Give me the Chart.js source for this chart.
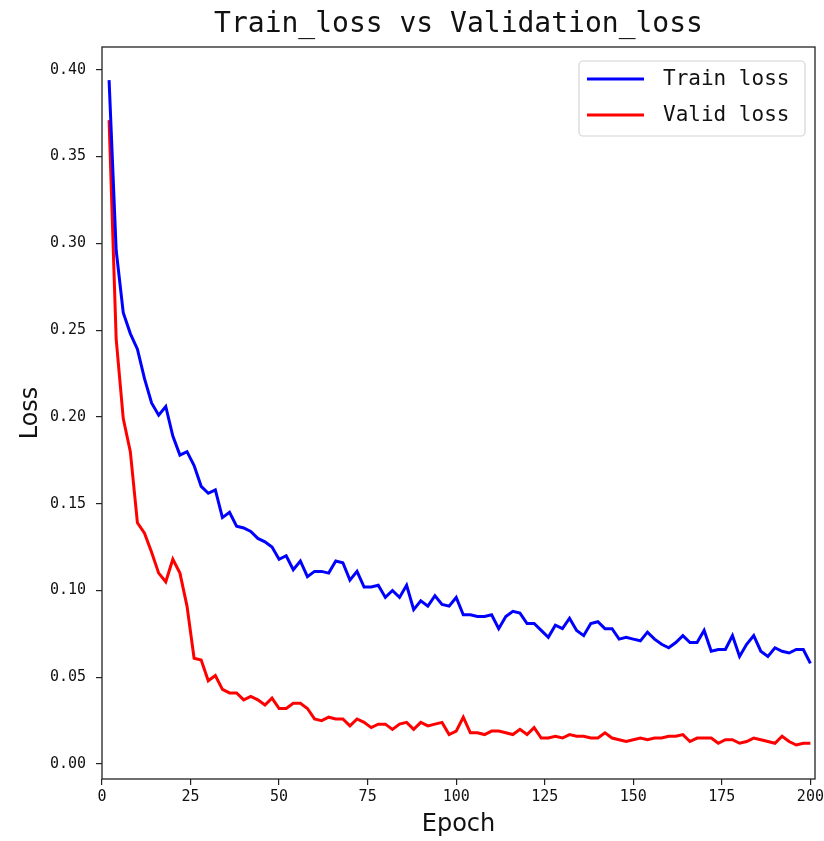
<!DOCTYPE html>
<html><head><meta charset="utf-8">
<script src="https://cdn.jsdelivr.net/npm/chart.js@4.4.1/dist/chart.umd.min.js"></script>
<style>html,body{margin:0;padding:0;background:#fff}#wrap{width:824px;height:841px}</style>
</head><body><div id="wrap"><canvas id="c" width="824" height="841"></canvas></div>
<script>
const epochs = [2,4,6,8,10,12,14,16,18,20,22,24,26,28,30,32,34,36,38,40,42,44,46,48,50,52,54,56,58,60,62,64,66,68,70,72,74,76,78,80,82,84,86,88,90,92,94,96,98,100,102,104,106,108,110,112,114,116,118,120,122,124,126,128,130,132,134,136,138,140,142,144,146,148,150,152,154,156,158,160,162,164,166,168,170,172,174,176,178,180,182,184,186,188,190,192,194,196,198,200];
const trainLoss = [0.394,0.296,0.260,0.248,0.239,0.222,0.208,0.201,0.206,0.189,0.178,0.180,0.172,0.160,0.156,0.158,0.142,0.145,0.137,0.136,0.134,0.130,0.128,0.125,0.118,0.120,0.112,0.117,0.108,0.111,0.111,0.110,0.117,0.116,0.106,0.111,0.102,0.102,0.103,0.096,0.100,0.096,0.103,0.089,0.094,0.091,0.097,0.092,0.091,0.096,0.086,0.086,0.085,0.085,0.086,0.078,0.085,0.088,0.087,0.081,0.081,0.077,0.073,0.080,0.078,0.084,0.077,0.074,0.081,0.082,0.078,0.078,0.072,0.073,0.072,0.071,0.076,0.072,0.069,0.067,0.070,0.074,0.070,0.070,0.077,0.065,0.066,0.066,0.074,0.062,0.069,0.074,0.065,0.062,0.067,0.065,0.064,0.066,0.066,0.058];
const validLoss = [0.371,0.245,0.199,0.180,0.139,0.133,0.122,0.110,0.105,0.118,0.110,0.091,0.061,0.060,0.048,0.051,0.043,0.041,0.041,0.037,0.039,0.037,0.034,0.038,0.032,0.032,0.035,0.035,0.032,0.026,0.025,0.027,0.026,0.026,0.022,0.026,0.024,0.021,0.023,0.023,0.020,0.023,0.024,0.020,0.024,0.022,0.023,0.024,0.017,0.019,0.027,0.018,0.018,0.017,0.019,0.019,0.018,0.017,0.020,0.017,0.021,0.015,0.015,0.016,0.015,0.017,0.016,0.016,0.015,0.015,0.018,0.015,0.014,0.013,0.014,0.015,0.014,0.015,0.015,0.016,0.016,0.017,0.013,0.015,0.015,0.015,0.012,0.014,0.014,0.012,0.013,0.015,0.014,0.013,0.012,0.016,0.013,0.011,0.012,0.012];
const xTickValues = [0,25,50,75,100,125,150,175,200];
const yTickValues = [0.00,0.05,0.10,0.15,0.20,0.25,0.30,0.35,0.40];
const seriesLabels = ['Train loss','Valid loss'];
const titleText = 'Train_loss vs Validation_loss';
const xTitle = 'Epoch';
const yTitle = 'Loss';

const MONO = '"DejaVu Sans Mono", "Liberation Mono", monospace';
const SANS = '"DejaVu Sans", "Liberation Sans", sans-serif';
const AXIS = '#222';

const framePlugin = {
  id: 'frame',
  afterDatasetsDraw(chart) {
    const {ctx, chartArea: a} = chart;
    ctx.save();
    ctx.strokeStyle = AXIS;
    ctx.lineWidth = 1.3;
    ctx.strokeRect(a.left, a.top, a.right - a.left, a.bottom - a.top);
    ctx.restore();
  }
};

const legendPlugin = {
  id: 'legendBox',
  afterDraw(chart) {
    const {ctx, chartArea: a} = chart;
    const w = 226, h = 75;
    const x0 = a.right - 10 - w, y0 = a.top + 14;
    ctx.save();
    ctx.beginPath();
    ctx.roundRect(x0, y0, w, h, 4);
    ctx.fillStyle = 'rgba(255,255,255,0.85)';
    ctx.fill();
    ctx.strokeStyle = '#d4d4d4';
    ctx.lineWidth = 1.2;
    ctx.stroke();
    chart.data.datasets.forEach((ds, i) => {
      const y = y0 + 18 + i * 36;
      ctx.beginPath();
      ctx.moveTo(x0 + 8, y);
      ctx.lineTo(x0 + 65, y);
      ctx.strokeStyle = ds.borderColor;
      ctx.lineWidth = 3;
      ctx.stroke();
      ctx.fillStyle = '#111';
      ctx.font = '21px ' + MONO;
      ctx.textBaseline = 'middle';
      ctx.textAlign = 'left';
      ctx.fillText(ds.label, x0 + 84, y + 1);
    });
    ctx.restore();
  }
};

const toPoints = arr => epochs.map((e, i) => ({x: e, y: arr[i]}));

new Chart(document.getElementById('c'), {
  type: 'line',
  data: {
    datasets: [
      {label: seriesLabels[0], data: toPoints(trainLoss), borderColor: '#0000ff', borderWidth: 3, pointRadius: 0, tension: 0, fill: false},
      {label: seriesLabels[1], data: toPoints(validLoss), borderColor: '#ff0000', borderWidth: 3, pointRadius: 0, tension: 0, fill: false}
    ]
  },
  options: {
    responsive: false,
    animation: false,
    devicePixelRatio: 1,
    layout: {padding: {left: 0, right: 9, top: 0, bottom: 0}},
    plugins: {
      legend: {display: false},
      tooltip: {enabled: false},
      title: {
        display: true, text: titleText, fullSize: false,
        color: '#111', font: {family: MONO, size: 28, weight: 'normal', lineHeight: 1.2},
        padding: {top: 8, bottom: 5.4}
      }
    },
    scales: {
      x: {
        type: 'linear', min: 0, max: 201.3,
        afterFit(s) { s.height = 62; s.paddingLeft = 0; s.paddingRight = 0; },
        afterBuildTicks(s) { s.ticks = xTickValues.map(v => ({value: v})); },
        ticks: {color: '#111', font: {family: MONO, size: 15}, padding: 3, maxRotation: 0, autoSkip: false, callback: v => String(v)},
        grid: {display: true, drawOnChartArea: false, drawTicks: true, tickLength: 6, color: AXIS, lineWidth: 1.2},
        border: {display: false},
        title: {display: true, text: xTitle, color: '#111', font: {family: SANS, size: 24, lineHeight: 1.2}, padding: {top: 0, bottom: 2}}
      },
      y: {
        type: 'linear', min: -0.0086, max: 0.4131,
        afterFit(s) { s.width = 102; s.paddingTop = 0; s.paddingBottom = 0; },
        afterBuildTicks(s) { s.ticks = yTickValues.map(v => ({value: v})); },
        ticks: {color: '#111', font: {family: MONO, size: 15}, padding: 10, autoSkip: false, callback: v => Number(v).toFixed(2)},
        grid: {display: true, drawOnChartArea: false, drawTicks: true, tickLength: 6, color: AXIS, lineWidth: 1.2},
        border: {display: false},
        title: {display: true, text: yTitle, color: '#111', font: {family: SANS, size: 24, lineHeight: 1.2}, padding: {top: 16, bottom: 0}}
      }
    }
  },
  plugins: [framePlugin, legendPlugin]
});
</script>
</body></html>
